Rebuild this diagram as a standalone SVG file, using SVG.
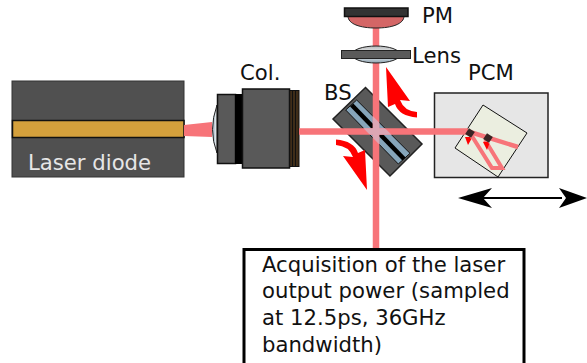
<svg xmlns="http://www.w3.org/2000/svg" width="587" height="363" viewBox="0 0 587 363">
<defs>
<linearGradient id="lg" x1="0" y1="0" x2="0" y2="1"><stop offset="0" stop-color="#b5b8ba"/><stop offset="0.5" stop-color="#ffffff"/><stop offset="1" stop-color="#8ba0ae"/></linearGradient>
<linearGradient id="lh" x1="0" y1="0" x2="1" y2="0"><stop offset="0" stop-color="#8fa5b5"/><stop offset="1" stop-color="#ffffff"/></linearGradient>
<clipPath id="strip"><path d="M356.700 100L410 153.300L398.300 164L345.700 110Z"/></clipPath>
</defs>
<style>
text{font-family:"DejaVu Sans",Verdana,sans-serif;font-size:21.2px;fill:#111}
.dark{fill:#595959;stroke:#111;stroke-width:1.5}
.beam{fill:none;stroke:#f77479;stroke-linejoin:miter}
.red{fill:#f00}
.grating{fill:#3a2424}
</style>
<g id="laser-diode">
<rect x="12" y="81" width="172" height="96" fill="#505050" stroke="#333" stroke-width="1"/>
<rect x="12.500" y="120.500" width="171.500" height="17" fill="#d4a03c" stroke="#111" stroke-width="1.500"/>
<text x="28" y="170" style="fill:#e6e6e6">Laser diode</text>
</g>
<g id="collimator">
<path d="M217 105Q208 130 217 153Z" fill="url(#lh)" stroke="#222"/>
<rect class="dark" x="217.500" y="94.500" width="18" height="69"/>
<rect x="235" y="94" width="8" height="70" fill="#000"/>
<rect x="289" y="90.500" width="10" height="76" fill="#3f2d18" stroke="#111"/>
<path d="M292.500 91V166M295.500 91V166" stroke="#111" stroke-width="1"/>
<rect class="dark" x="242.500" y="89" width="47" height="79"/>
<text x="240" y="80">Col.</text>
</g>
<g id="beam-splitter">
<path d="M365.500 87.500L422 144L390 176L333 119Z" fill="#595959" stroke="#222" stroke-width="1.500"/>
<path d="M356.700 100L410 153.300L398.300 164L345.700 110Z" fill="#86a5ba" stroke="#111"/>
<path d="M351.700 105L404 159" stroke="#000" stroke-width="4.500"/>
<text x="324" y="100">BS</text>
</g>
<g id="pcm">
<rect x="434.500" y="93" width="113.500" height="84.500" fill="#e6e6e6" stroke="#222" stroke-width="1.500"/>
<path d="M483 105L527 133L498 177L455 148Z" fill="#ebeee0" stroke="#111" stroke-width="1"/>
<text x="468" y="80">PCM</text>
</g>
<g id="connectors">
<path d="M184 125L212 122V137L184 136Z" fill="#f77479"/>
<path class="beam" stroke-width="6.500" d="M299 131.500H468"/>
<path class="beam" stroke-width="6.500" d="M376 28V249"/>
<g clip-path="url(#strip)">
<path d="M345 128.300H407V134.800H345Z" fill="#dca6b4"/>
<path d="M372.800 95H379.200V165H372.800Z" fill="#dca6b4"/>
</g>
<path class="beam" stroke-width="4.500" d="M470 132L518 147"/>
<path class="beam" stroke-width="4" d="M470 133L492 168H502L485 140"/>
</g>
<g id="gratings">
<rect class="grating" x="466.500" y="129.500" width="7" height="7" transform="rotate(33 470 133)"/>
<rect class="grating" x="484.500" y="134.500" width="7" height="7" transform="rotate(33 488 138)"/>
<path class="red" d="M465 137L470 137L471 139L472 138L468 145L465 137Z"/>
<path class="red" d="M483 142L488 142L489 144L490 142L487 150L483 142Z"/>
</g>
<g id="pcm-motion">
<path d="M482 198H562" stroke="#000" stroke-width="2"/>
<path d="M458 198L492 188L483 198L492 208Z"/>
<path d="M587 198L559 188L566 198L559 208Z"/>
</g>
<g id="arrow-up">
<path class="red" d="M417 117.500Q399 116 395 104L388 107L386 67L410 101L400 100Q404 111 417 112Z"/>
</g>
<g id="arrow-down">
<path class="red" d="M336 139.500Q354 141 358 153L365 150L367 190L343 156L353 157Q349 146 336 145Z"/>
</g>
<g id="pm">
<path d="M348 16C348 24 360 28 376 28C392 28 404 24 404 16Z" fill="#d46666" stroke="#222" stroke-width="1"/>
<rect x="344.500" y="8" width="63.500" height="8.500" fill="#333" stroke="#111" stroke-width="1.500"/>
<text x="422" y="23">PM</text>
</g>
<g id="lens">
<ellipse cx="376" cy="54.500" rx="24" ry="8.500" fill="url(#lg)" stroke="#222"/>
<rect x="341.500" y="50.500" width="69" height="8" fill="#5a5a5a" stroke="#222" stroke-width="1"/>
<text x="412" y="63">Lens</text>
</g>
<g id="acquisition">
<rect x="244" y="249.500" width="280" height="116" fill="#fff" stroke="#000" stroke-width="3"/>
<text x="262" y="272">Acquisition of the laser</text>
<text x="262" y="298">output power (sampled</text>
<text x="262" y="325">at 12.5ps, 36GHz</text>
<text x="262" y="352">bandwidth)</text>
</g>
</svg>
